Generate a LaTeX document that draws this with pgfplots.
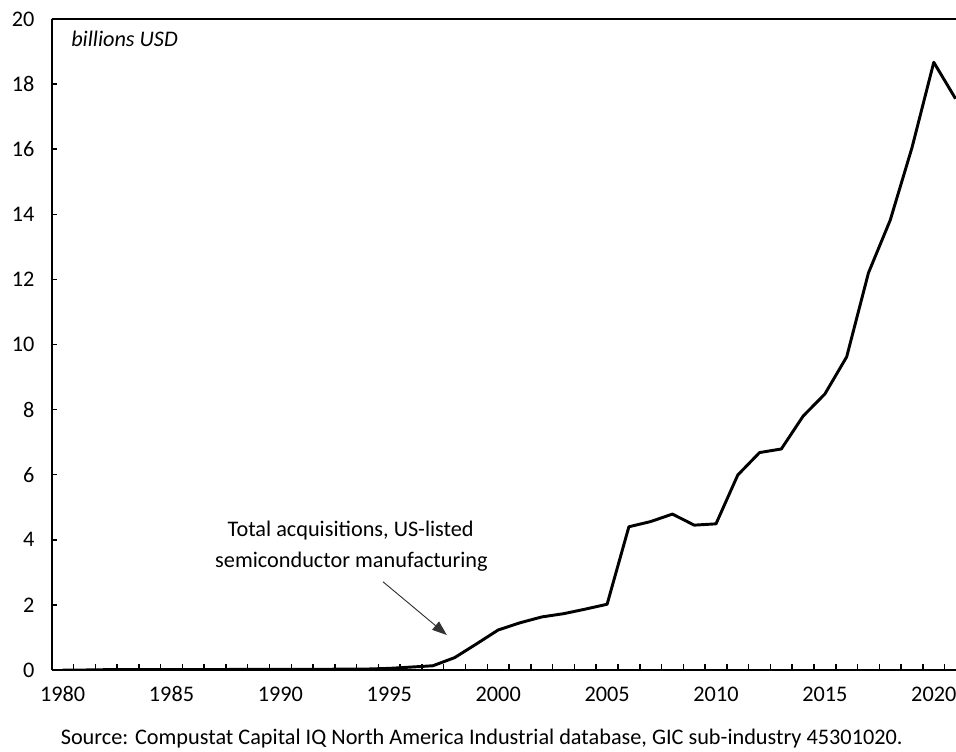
\documentclass[border=0pt]{standalone}
\usepackage{fontspec}
\setmainfont{Carlito}
\usepackage{pgfplots}
\pgfplotsset{compat=1.18}
\usetikzlibrary{arrows.meta}

\newcommand\chartfont{\fontsize{16.7}{20}\selectfont}

\pgfplotstableread{
year value
1980 0.00
1981 0.00
1982 0.01
1983 0.01
1984 0.01
1985 0.01
1986 0.01
1987 0.01
1988 0.02
1989 0.02
1990 0.02
1991 0.02
1992 0.02
1993 0.03
1994 0.03
1995 0.05
1996 0.09
1997 0.13
1998 0.38
1999 0.80
2000 1.23
2001 1.45
2002 1.63
2003 1.73
2004 1.87
2005 2.02
2006 4.40
2007 4.56
2008 4.79
2009 4.45
2010 4.49
2011 5.99
2012 6.68
2013 6.79
2014 7.80
2015 8.48
2016 9.62
2017 12.20
2018 13.82
2019 16.05
2020 18.67
2021 17.55
}\acqdata

\begin{document}
\begin{tikzpicture}
\begin{axis}[
    name=ax,
    scale only axis,
    width=678.2pt,
    height=488.25pt,
    xmin=1979.5, xmax=2021.02,
    ymin=0, ymax=20,
    axis x line*=bottom,
    axis y line*=left,
    axis line style={line width=1.6pt, black},
    xtick={1980,1985,...,2020},
    minor xtick={1979.5,1980.5,...,2020.5},
    ytick={0,2,...,20},
    major x tick style={draw=none},
    minor x tick style={line width=1.1pt, black},
    major y tick style={line width=1.1pt, black},
    tick align=inside,
    major tick length=4pt,
    minor tick length=4.5pt,
    xticklabel style={font=\chartfont, anchor=base, yshift=-23.5pt},
    yticklabel style={font=\chartfont, xshift=-9.5pt},
    /pgf/number format/assume math mode=true,
    x tick label style={/pgf/number format/1000 sep={}},
    clip mode=individual,
]
\addplot[black, line width=2.2pt, line join=round] table[x=year, y=value] {\acqdata};

\draw[line width=1.6pt, black] (rel axis cs:0,1) -- (rel axis cs:1,1);

\node[anchor=base west, font=\chartfont\itshape, inner sep=0pt]
    at (axis description cs:0.0213,0.9578) {billions USD};

\node[anchor=base east, font=\chartfont, inner sep=0pt]
    at (axis cs:1998.89,4.09) {Total acquisitions, US-listed};
\node[anchor=base east, font=\chartfont, inner sep=0pt]
    at (axis cs:1999.53,3.16) {semiconductor manufacturing};

\draw[line width=0.7pt, black!80, -{Triangle[length=11pt, width=8pt]}]
    (axis cs:1994.71,2.71) -- (axis cs:1997.64,1.075);

\node[anchor=base, font=\chartfont, inner sep=0pt]
    at (axis description cs:0.4755,-0.1152)
    {Source: Compustat Capital IQ North America Industrial database, GIC sub-industry 45301020.};
\end{axis}
\pgfresetboundingbox
\path[use as bounding box] ([xshift=-38.8pt,yshift=-61.5pt]ax.south west) rectangle ([yshift=14.25pt]ax.north east);
\end{tikzpicture}
\end{document}
